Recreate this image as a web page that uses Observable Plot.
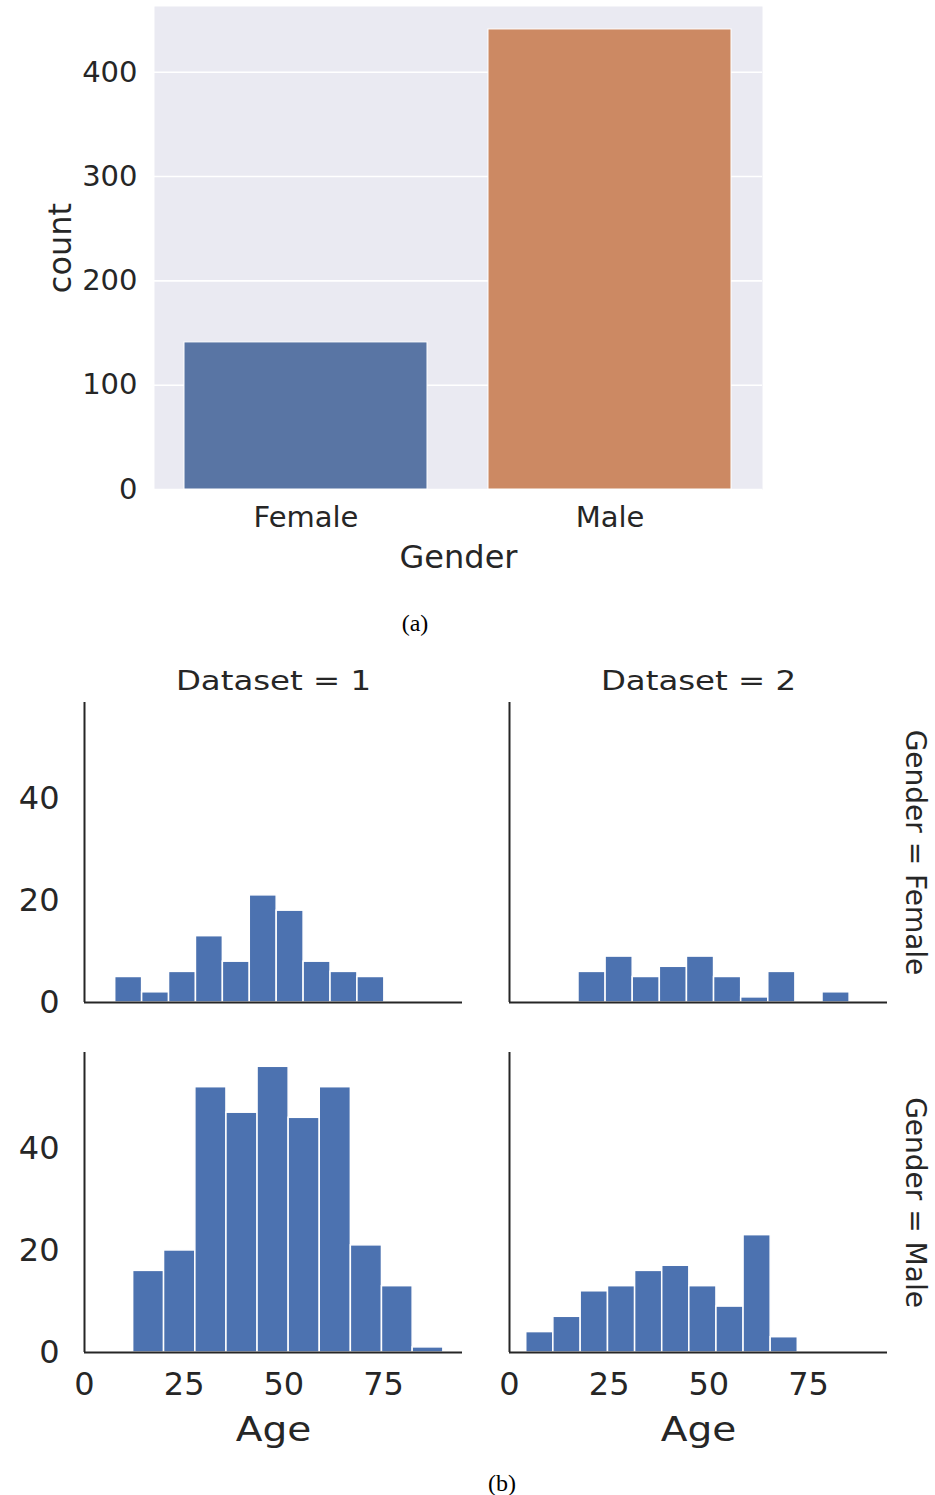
<!DOCTYPE html>
<html>
<head>
<meta charset="utf-8">
<script src="https://cdn.jsdelivr.net/npm/d3@7"></script>
<script src="https://cdn.jsdelivr.net/npm/@observablehq/plot@0.6"></script>
<style>
  html, body { margin: 0; padding: 0; background: white; }
  #page { position: relative; width: 935px; height: 1495px; overflow: hidden; }
  #top { position: absolute; left: 0; top: 0; }
  #bottom { position: absolute; left: 0; top: 640px; }
  .cap { position: absolute; font-family: "Liberation Serif", serif; font-size: 24px; color: #000; transform: translate(-50%, -50%); white-space: nowrap; }
</style>
</head>
<body>
<div id="page">
  <div id="top"></div>
  <div class="cap" style="left:415px; top:623px;">(a)</div>
  <div id="bottom"></div>
  <div class="cap" style="left:502px; top:1483px;">(b)</div>
</div>
<script>
// ---------- (a) count by gender ----------
const genders = ["Female", "Male"];
const genderCounts = [141, 441];
const genderColors = ["#5975a4", "#cc8963"];
const countTicks = [0, 100, 200, 300, 400];
const countMax = 463;

// ---------- (b) age histograms, faceted by Dataset (columns) and Gender (rows) ----------
const datasets = [1, 2];
const ageTicks = [0, 25, 50, 75];
const histTicks = [0, 20, 40];
const ageMax = 94.8;
const histMax = 58.8;

// bin edges (ages) and counts
const d1FemaleEdges = [7.7, 14.45, 21.2, 27.95, 34.7, 41.45, 48.2, 54.95, 61.7, 68.45, 75.2];
const d1FemaleCounts = [5, 2, 6, 13, 8, 21, 18, 8, 6, 5];
const d2FemaleEdges = [17.3, 24.1, 30.9, 37.7, 44.5, 51.3, 58.1, 64.9, 71.7, 78.5, 85.3];
const d2FemaleCounts = [6, 9, 5, 7, 9, 5, 1, 6, 0, 2];
const d1MaleEdges = [12.2, 19.95, 27.8, 35.6, 43.4, 51.2, 59.0, 66.8, 74.6, 82.3, 90.0];
const d1MaleCounts = [16, 20, 52, 47, 56, 46, 52, 21, 13, 1];
const d2MaleEdges = [4.2, 11.0, 17.85, 24.7, 31.5, 38.3, 45.1, 51.9, 58.7, 65.5, 72.3];
const d2MaleCounts = [4, 7, 12, 13, 16, 17, 13, 9, 23, 3];

const ink = "#262626";

// ---- top chart ----
const genderRows = genders.map((g, i) => ({gender: g, count: genderCounts[i]}));
const topPlot = Plot.plot({
  width: 935,
  height: 600,
  marginLeft: 154,
  marginRight: 173,
  marginTop: 6,
  marginBottom: 111,
  style: {fontFamily: "DejaVu Sans", fontSize: "29px", color: ink, background: "white", overflow: "visible"},
  x: {domain: genders, paddingInner: 0.2, paddingOuter: 0.1, tickSize: 0, tickPadding: 17, label: null},
  y: {domain: [0, countMax], ticks: countTicks, tickSize: 0, tickPadding: 17, label: null},
  color: {domain: genders, range: genderColors},
  marks: [
    Plot.frame({fill: "#eaeaf2", stroke: "none"}),
    Plot.ruleY(countTicks, {stroke: "white", strokeWidth: 1.6}),
    Plot.barY(genderRows, {x: "gender", y: "count", fill: "gender", stroke: "white", strokeWidth: 1}),
    Plot.text(["count"], {frameAnchor: "left", rotate: -90, dx: -94, textAnchor: "middle", lineAnchor: "middle", fontSize: 32, fill: ink}),
    Plot.text(["Gender"], {frameAnchor: "bottom", dy: 68, textAnchor: "middle", lineAnchor: "middle", fontSize: 32, fill: ink})
  ]
});
document.getElementById("top").appendChild(topPlot);

// ---- bottom facet chart ----
const panels = [
  {ds: 1, gender: "Female", edges: d1FemaleEdges, counts: d1FemaleCounts},
  {ds: 2, gender: "Female", edges: d2FemaleEdges, counts: d2FemaleCounts},
  {ds: 1, gender: "Male", edges: d1MaleEdges, counts: d1MaleCounts},
  {ds: 2, gender: "Male", edges: d2MaleEdges, counts: d2MaleCounts}
];
const bins = [];
for (const p of panels) {
  p.counts.forEach((c, i) => {
    bins.push({ds: p.ds, gender: p.gender, bin: i, x1: p.edges[i], x2: p.edges[i + 1], count: c});
  });
}

const bottomPlot = Plot.plot({
  width: 935,
  height: 830,
  marginLeft: 83,
  marginRight: 47,
  marginTop: 62,
  marginBottom: 118,
  style: {fontFamily: "DejaVu Sans", fontSize: "32px", color: ink, background: "white", overflow: "visible"},
  facet: {data: bins, x: "ds", y: "gender"},
  fx: {domain: datasets, paddingInner: 0.11, paddingOuter: 0, axis: null},
  fy: {domain: genders, paddingInner: 0.143, paddingOuter: 0, axis: null},
  x: {domain: [0, ageMax], ticks: ageTicks, tickSize: 0, tickPadding: 20, label: null},
  y: {domain: [0, histMax], ticks: histTicks, tickSize: 0, tickPadding: 25, label: null},
  marks: [
    Plot.rectY(bins, {x1: "x1", x2: "x2", y: "count", fill: "#4c72b0", stroke: "white", strokeWidth: 1.5}),
    Plot.ruleX([0], {stroke: ink, strokeWidth: 2}),
    Plot.ruleY([0], {stroke: ink, strokeWidth: 2}),
    Plot.text(bins, {filter: d => d.gender === "Female" && d.bin === 0, text: d => `Dataset = ${d.ds}`,
      frameAnchor: "top", dy: -21, textAnchor: "middle", lineAnchor: "middle", fontSize: 27, fill: ink}),
    Plot.text(bins, {filter: d => d.ds === 2 && d.bin === 0, text: d => `Gender = ${d.gender}`,
      frameAnchor: "right", dx: 27, rotate: 90, textAnchor: "middle", lineAnchor: "middle", fontSize: 28, fill: ink}),
    Plot.text(bins, {filter: d => d.gender === "Male" && d.bin === 0, text: () => "Age",
      frameAnchor: "bottom", dy: 78, textAnchor: "middle", lineAnchor: "middle", fontSize: 34, fill: ink})
  ]
});
document.getElementById("bottom").appendChild(bottomPlot);

// the reference's lower figure is slightly stretched horizontally: widen its title texts
bottomPlot.querySelectorAll("text").forEach(t => {
  const s = t.textContent;
  const tr = t.getAttribute("transform");
  if (!tr) return;
  if (s.startsWith("Dataset")) t.setAttribute("transform", tr + " scale(1.2,1)");
  else if (s === "Age") t.setAttribute("transform", tr + " scale(1.15,1)");
});
</script>
</body>
</html>
